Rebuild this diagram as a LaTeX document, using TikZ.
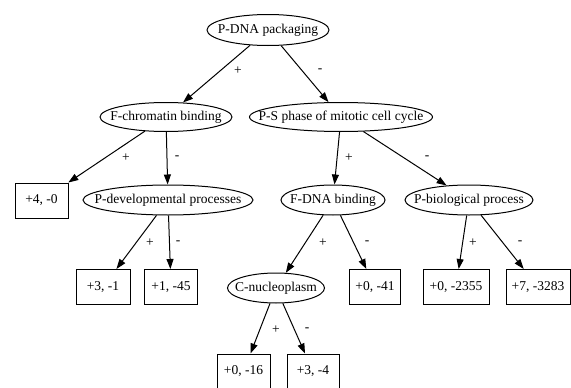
\documentclass[tikz,border=0pt]{standalone}
\usepackage{fontspec}
\setmainfont{Liberation Serif}
\usetikzlibrary{shapes.geometric,arrows.meta}
\begin{document}
\begin{tikzpicture}[x=1pt,y=-1pt,
  every node/.style={font=\fontsize{13.5}{15}\selectfont, inner sep=0pt},
  ell/.style={draw, ellipse, line width=1pt, inner xsep=-40pt, inner ysep=-12pt, minimum height=30pt},
  box/.style={draw, rectangle, line width=1pt, minimum height=35pt},
  edge/.style={draw, line width=1pt, -{Triangle[length=10pt,width=7pt]}},
  lab/.style={font=\fontsize{13.5}{15}\selectfont}]
\useasboundingbox (0,0) rectangle (571,388);
% nodes
\node[ell, minimum width=122pt, minimum height=31pt] (root) at (268,30) {P-DNA packaging};
\node[ell, minimum width=132pt, minimum height=29pt] (fchrom) at (166,117) {F-chromatin binding};
\node[ell, minimum width=183pt, minimum height=29pt] (psphase) at (341,117) {P-S phase of mitotic cell cycle};
\node[box, minimum width=53pt] (b40) at (41.5,200.5) {+4, -0};
\node[ell, minimum width=170pt] (pdev) at (168,200) {P-developmental processes};
\node[ell, minimum width=104pt] (fdna) at (333,200) {F-DNA binding};
\node[ell, minimum width=128pt] (pbio) at (469,200) {P-biological process};
\node[box, minimum width=54pt] (b31) at (103,287) {+3, -1};
\node[box, minimum width=53pt] (b145) at (171,287) {+1, -45};
\node[ell, minimum width=97pt] (cnuc) at (276,288) {C-nucleoplasm};
\node[box, minimum width=51pt] (b041) at (375,287) {+0, -41};
\node[box, minimum width=66pt] (b2355) at (456,287) {+0, -2355};
\node[box, minimum width=64pt] (b3283) at (538,287) {+7, -3283};
\node[box, minimum width=53pt] (b016) at (243.5,371.5) {+0, -16};
\node[box, minimum width=52pt] (b34) at (313,371.5) {+3, -4};
% edges
\draw[edge] (root) -- (fchrom);
\draw[edge] (root) -- (psphase);
\draw[edge] (fchrom) -- (b40);
\draw[edge] (fchrom) -- (pdev);
\draw[edge] (psphase) -- (fdna);
\draw[edge] (psphase) -- (pbio);
\draw[edge] (pdev) -- (b31);
\draw[edge] (pdev) -- (b145);
\draw[edge] (fdna) -- (cnuc);
\draw[edge] (fdna) -- (b041);
\draw[edge] (pbio) -- (b2355);
\draw[edge] (pbio) -- (b3283);
\draw[edge] (cnuc) -- (b016);
\draw[edge] (cnuc) -- (b34);
% edge labels
\node[lab] (l1) at (238,71) {+};
\node[lab] (l2) at (320,71) {-};
\node[lab] (l3) at (126,158) {+};
\node[lab] (l4) at (177,158) {-};
\node[lab] (l5) at (349,158) {+};
\node[lab] (l6) at (427,158) {-};
\node[lab] (l7) at (150,243) {+};
\node[lab] (l8) at (178,243) {-};
\node[lab] (l9) at (323,243) {+};
\node[lab] (l10) at (367,243) {-};
\node[lab] (l11) at (473,243) {+};
\node[lab] (l12) at (520,243) {-};
\node[lab] (l13) at (276,330) {+};
\node[lab] (l14) at (307,330) {-};
\end{tikzpicture}
\end{document}
